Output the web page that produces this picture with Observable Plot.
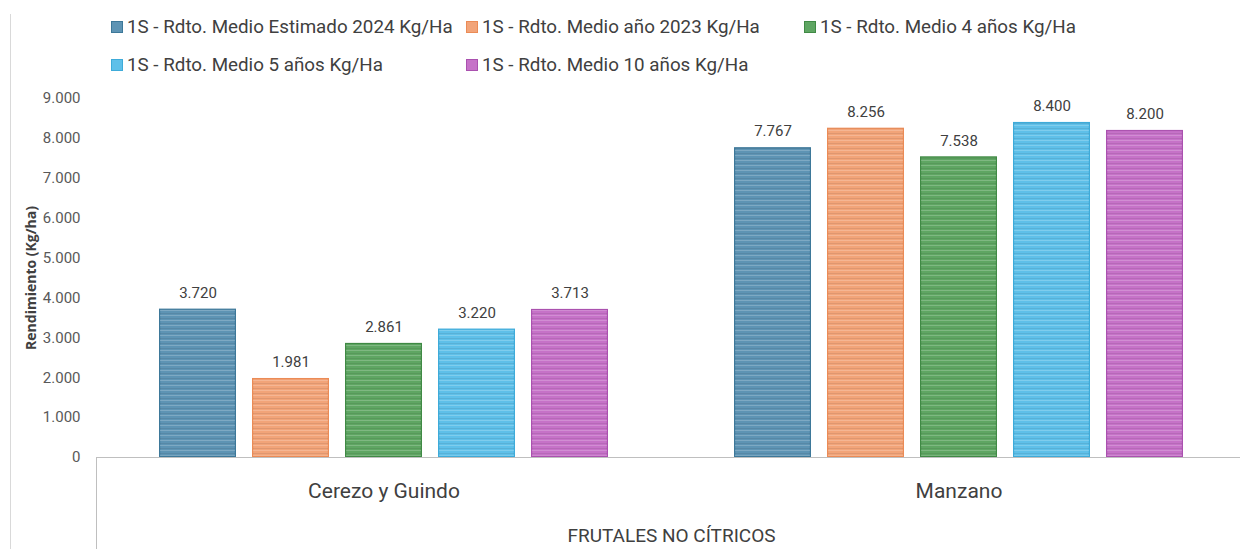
<!DOCTYPE html>
<html><head><meta charset="utf-8">
<script src="https://cdn.jsdelivr.net/npm/d3@7"></script>
<script src="https://cdn.jsdelivr.net/npm/@observablehq/plot@0.6"></script>
<style>
 html,body{margin:0;padding:0;background:#fff;}
 #wrap{position:relative;width:1240px;height:549px;overflow:hidden;font-family:Roboto,sans-serif;color:#404040;}
 #legend{position:absolute;left:0;top:0;width:1240px;height:85px;}
 .li{position:absolute;display:flex;align-items:center;font-size:18.8px;color:#404040;white-space:nowrap;}
 .sw{width:12px;height:12px;margin-right:4px;}
 #chart{position:absolute;left:0;top:85px;}
 #frameL{position:absolute;left:10px;top:14px;bottom:0;border-left:1px solid #d9d9d9;}
 #catL{position:absolute;left:96px;top:457px;bottom:0;border-left:1px solid #bfbfbf;}
</style>
</head><body>
<div id="wrap"><div id="frameL"></div><div id="legend"></div><div id="chart"></div><div id="catL"></div></div>
<script>
const categories = ["Cerezo y Guindo", "Manzano"];
const series = [
  "1S - Rdto. Medio Estimado 2024 Kg/Ha",
  "1S - Rdto. Medio año 2023 Kg/Ha",
  "1S - Rdto. Medio 4 años Kg/Ha",
  "1S - Rdto. Medio 5 años Kg/Ha",
  "1S - Rdto. Medio 10 años Kg/Ha"
];
const cerezoValues = [3720, 1981, 2861, 3220, 3713];
const manzanoValues = [7767, 8256, 7538, 8400, 8200];
const yTicks = [0, 1000, 2000, 3000, 4000, 5000, 6000, 7000, 8000, 9000];
const fills = ["#5e94b4", "#f2a479", "#5fa663", "#5fc0e9", "#c672c8"];
const strokes = ["#3d7899", "#eb8b56", "#408a45", "#3eabd9", "#aa51af"];

const valuesByCat = [cerezoValues, manzanoValues];
const data = [];
categories.forEach((c, ci) => series.forEach((s, si) => data.push({cat: c, series: s, value: valuesByCat[ci][si], si})));

const loc = d3.formatLocale({decimal: ",", thousands: ".", grouping: [3], currency: ["", "€"]});
const fmt = loc.format(",d");

// legend
const legendPos = [[111, 28], [466, 28], [804, 28], [111, 66], [466, 66]];
const leg = document.getElementById("legend");
series.forEach((s, i) => {
  const d = document.createElement("div");
  d.className = "li";
  d.style.left = legendPos[i][0] + "px";
  d.style.top = (legendPos[i][1] - 12) + "px";
  d.innerHTML = `<span class="sw" style="background:${fills[i]};border:1px solid ${strokes[i]};box-sizing:border-box"></span><span>${s}</span>`;
  leg.appendChild(d);
});

const chart = Plot.plot({
  width: 1240, height: 464,
  marginTop: 13, marginBottom: 92, marginLeft: 96, marginRight: 0,
  style: {fontFamily: "Roboto, sans-serif", color: "#595959", background: "transparent"},
  fx: {domain: categories, range: [96, 1246], padding: 0},
  x: {domain: series, paddingInner: 0.176, paddingOuter: 0.663, axis: null},
  y: {domain: [0, 9000]},
  color: {type: "identity"},
  marks: [
    Plot.barY(data, {fx: "cat", x: "series", y: "value", fill: d => fills[d.si], stroke: d => strokes[d.si], strokeWidth: 1.2, inset: 0.6}),
    Plot.barY(data, {fx: "cat", x: "series", y: "value", fill: "url(#stripes)", inset: 1}),
    Plot.text(data, {fx: "cat", x: "series", y: "value", text: d => fmt(d.value), dy: -16, fontSize: 15, fill: "#404040"}),
    Plot.ruleY([0], {stroke: "#bfbfbf", strokeWidth: 1.2}),
    Plot.axisY({ticks: yTicks, tickFormat: fmt, tickSize: 0, tickPadding: 16, fontSize: 15, label: "Rendimiento (Kg/ha)", labelAnchor: "center", labelArrow: "none", labelOffset: 70}),
    Plot.axisFx({anchor: "bottom", tickSize: 0, tickPadding: 26, fontSize: 21, label: "FRUTALES NO CÍTRICOS", labelAnchor: "center", labelArrow: "none", labelOffset: 84})
  ]
});

// stripes pattern
const svg = d3.select(chart);
const defs = svg.insert("defs", ":first-child");
const pat = defs.append("pattern").attr("id", "stripes").attr("patternUnits", "userSpaceOnUse").attr("width", 8).attr("height", 5);
pat.append("rect").attr("x", 0).attr("y", 0).attr("width", 8).attr("height", 1).attr("fill", "rgba(255,255,255,0.2)");
pat.append("rect").attr("x", 0).attr("y", 3).attr("width", 8).attr("height", 1).attr("fill", "rgba(0,0,0,0.08)");

svg.selectAll('g[aria-label="y-axis label"] text').attr("font-weight", "bold").attr("font-size", 14).attr("font-family", "'Open Sans', sans-serif").attr("fill", "#404040");
svg.selectAll('g[aria-label="fx-axis label"] text').attr("fill", "#404040").attr("font-size", 19);
svg.selectAll('g[aria-label="fx-axis tick label"] text').attr("fill", "#404040");
document.getElementById("chart").appendChild(chart);
</script>
</body></html>
